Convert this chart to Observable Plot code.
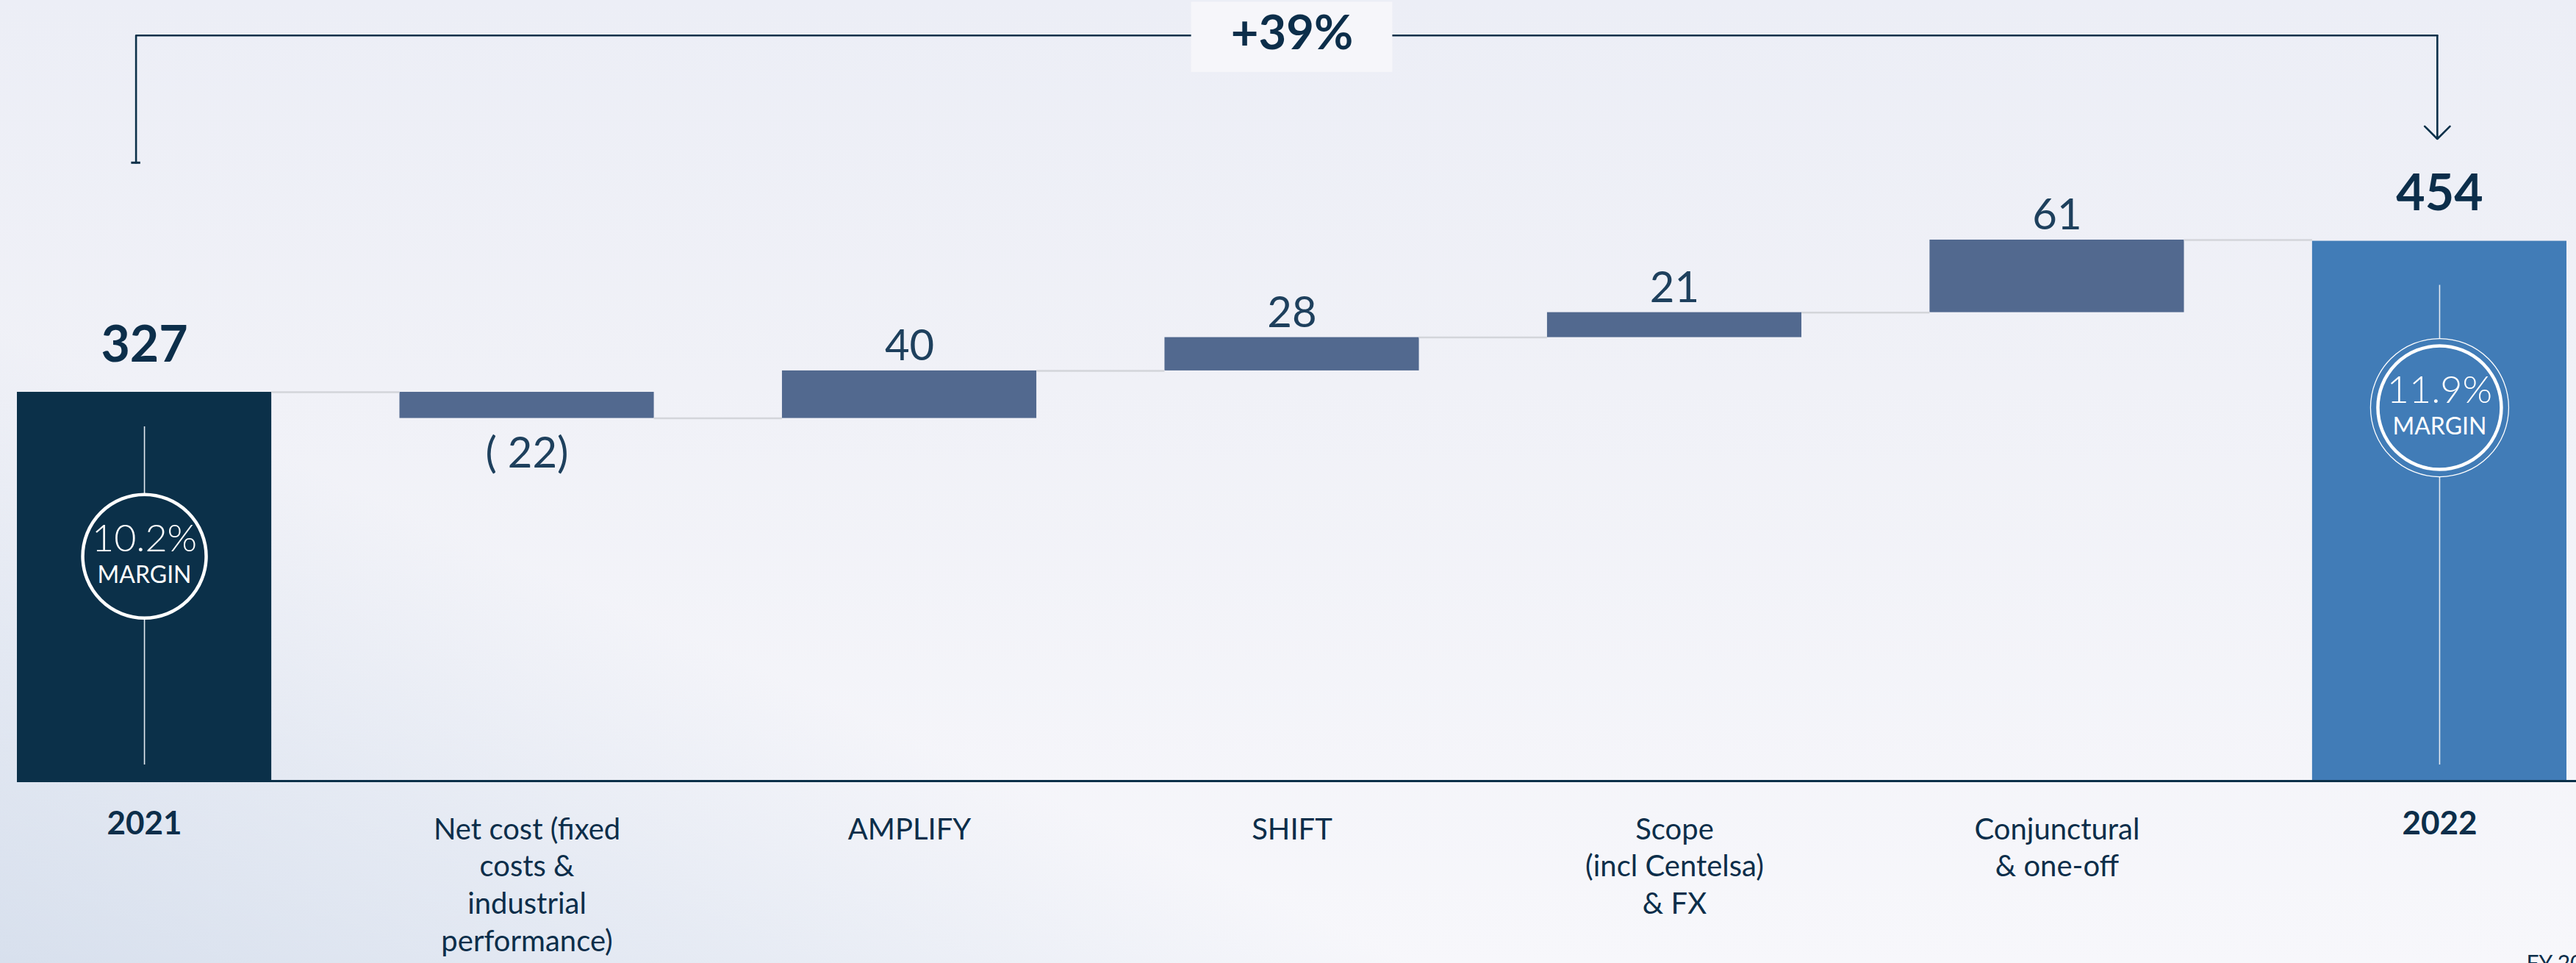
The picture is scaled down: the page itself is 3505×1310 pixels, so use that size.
<!DOCTYPE html>
<html>
<head>
<meta charset="utf-8">
<script src="https://cdn.jsdelivr.net/npm/d3@7"></script>
<script src="https://cdn.jsdelivr.net/npm/@observablehq/plot@0.6"></script>
<style>
  html, body { margin: 0; padding: 0; width: 3505px; height: 1310px; overflow: hidden; }
  body {
    background:
      linear-gradient(24deg, rgba(190,205,226,0.55) 0%, rgba(200,213,231,0.35) 16%, rgba(240,242,248,0) 30%),
      linear-gradient(180deg, #eceef6 0%, #f0f1f7 40%, #f7f7fb 100%);
  }
  #chart svg { display: block; }
</style>
</head>
<body>
<div id="chart"></div>
<script>
// ---------- data ----------
const categories = ["2021", "Net cost", "AMPLIFY", "SHIFT", "Scope", "Conjunctural", "2022"];
const tickLabels = [
  "2021",
  "Net cost (fixed\ncosts &\nindustrial\nperformance)",
  "AMPLIFY",
  "SHIFT",
  "Scope\n(incl Centelsa)\n& FX",
  "Conjunctural\n& one-off",
  "2022"
];
const kinds = ["total", "delta", "delta", "delta", "delta", "delta", "total"];
const values = [327, -22, 40, 28, 21, 61, 454];
const valueLabels = ["327", "( 22)", "40", "28", "21", "61", "454"];
const marginLabels = ["10.2%", null, null, null, null, null, "11.9%"];
const marginWord = "MARGIN";
const growthLabel = "+39%";
const footnote = "FY 2022";

// ---------- derived table ----------
let run = 0;
const rows = categories.map((c, i) => {
  let y1, y2;
  if (kinds[i] === "total") { y1 = 0; y2 = values[i]; }
  else { y1 = run; y2 = run + values[i]; }
  run = y2;
  return {i, category: c, tick: tickLabels[i], kind: kinds[i], value: values[i],
          label: valueLabels[i], margin: marginLabels[i], y1, y2,
          top: Math.max(y1, y2), bottom: Math.min(y1, y2), end: y2};
});
const totals = rows.filter(d => d.kind === "total");
const deltas = rows.filter(d => d.kind === "delta");

// ---------- styling / layout ----------
const hw = 0.3325;                      // half bar width in band units
const navy = "#0b3049";
const slate = "#52698f";
const blue = "#417cb7";
const textNavy = "#0c2e4a";
const textSoft = "#1e405d";
const barColor = d => d.kind === "delta" ? slate : (d.i === 0 ? navy : blue);
const circleLevel = d => d.i === 0 ? 189 : 314;
const stemTop = d => d.i === 0 ? 298 : 417;
const stemBottom = 13.6;
const bracketTop = 627;
const first = rows[0], last = rows[rows.length - 1];
const bracketPts = [
  {x: first.i - 0.022, y: 520},
  {x: first.i - 0.022, y: bracketTop},
  {x: last.i - 0.006, y: bracketTop}
];
const connectors = rows.slice(0, -1).map((d, k) => ({x1: d.i + hw, x2: rows[k + 1].i - hw, level: d.end}));
const midIndex = 3;
const font = "Lato, 'Noto Sans', 'Open Sans', sans-serif";

const chart = Plot.plot({
  width: 3505,
  height: 1310,
  marginLeft: 23,
  marginRight: 13,
  marginTop: 0,
  marginBottom: 248,
  style: {background: "transparent", fontFamily: font},
  x: {domain: [-hw, rows.length - 1 + hw], axis: null},
  y: {domain: [0, 656.5], axis: null},
  color: {type: "identity"},
  marks: [
    // bars
    Plot.rect(rows, {x1: d => d.i - hw, x2: d => d.i + hw, y1: "y1", y2: "y2", fill: barColor}),
    // baseline
    Plot.ruleY([0], {stroke: navy, strokeWidth: 3, insetRight: -13}),
    // connectors
    Plot.ruleY(connectors, {y: "level", x1: "x1", x2: "x2", stroke: "#d3d5da", strokeWidth: 2.5}),
    // stems in total bars
    Plot.ruleX(totals, {x: "i", y1: stemBottom, y2: stemTop, stroke: "#e3e9f0", strokeWidth: 1.6}),
    // outer thin ring (2022)
    Plot.dot(totals.filter(d => d.i !== 0), {x: "i", y: circleLevel, r: 94, stroke: "white", strokeWidth: 1.3, fill: barColor}),
    // main ring
    Plot.dot(totals, {x: "i", y: circleLevel, r: 84, stroke: "white", strokeWidth: 4.5, fill: barColor}),
    // margin text
    Plot.text(totals, {x: "i", y: circleLevel, text: "margin", dy: -7, lineAnchor: "bottom",
      fontSize: 52, fontWeight: 300, fill: "white", ariaLabel: "margin-pct", fontFamily: font}),
    Plot.text(totals, {x: "i", y: circleLevel, text: () => marginWord, dy: 36, lineAnchor: "bottom",
      fontSize: 32, fontWeight: 400, fill: "white", ariaLabel: "margin-word", fontFamily: font}),
    // value labels
    Plot.text(totals, {x: "i", y: "top", text: "label", dy: -42, lineAnchor: "bottom",
      fontSize: 68, fontWeight: 700, fill: textNavy, fontFamily: font}),
    Plot.text(deltas.filter(d => d.value >= 0), {x: "i", y: "top", text: "label", dy: -14, lineAnchor: "bottom",
      fontSize: 58, fontWeight: 400, fill: textSoft, fontFamily: font}),
    Plot.text(deltas.filter(d => d.value < 0), {x: "i", y: "bottom", text: "label", dy: 26, lineAnchor: "top",
      fontSize: 58, fontWeight: 400, fill: textSoft, fontFamily: font}),
    // category labels
    Plot.text(totals, {x: "i", y: 0, text: "tick", dy: 41, lineAnchor: "top",
      fontSize: 44, fontWeight: 700, fill: textNavy, fontFamily: font}),
    Plot.text(deltas, {x: "i", y: 0, text: "tick", dy: 43, lineAnchor: "top", lineHeight: 1.27,
      fontSize: 40, fontWeight: 400, fill: textNavy, fontFamily: font}),
    // growth bracket
    Plot.line(bracketPts, {x: "x", y: "y", stroke: navy, strokeWidth: 2.6}),
    Plot.ruleY([bracketPts[0]], {y: "y", x1: d => d.x - 0.012, x2: d => d.x + 0.012, stroke: navy, strokeWidth: 3}),
    Plot.arrow([last], {x1: d => d.i - 0.006, y1: bracketTop, x2: d => d.i - 0.006, y2: 540,
      stroke: navy, strokeWidth: 2.6, headAngle: 90, headLength: 14}),
    Plot.rect([growthLabel], {x1: midIndex - 0.263, x2: midIndex + 0.263, y1: bracketTop - 31, y2: bracketTop + 28,
      fill: "#f6f6fa"}),
    Plot.text([growthLabel], {x: midIndex, y: bracketTop, text: d => d, dy: -2, lineAnchor: "middle",
      fontSize: 65, fontWeight: 700, fill: textNavy, fontFamily: font}),
    // footnote (cut at the bottom edge, as in the source)
    Plot.text([footnote], {frameAnchor: "bottom-right", text: d => d, dx: -55, dy: 258, textAnchor: "start",
      lineAnchor: "bottom", fontSize: 30, fill: textNavy, fontFamily: font})
  ]
});

chart.querySelectorAll('g[aria-label="margin-pct"] text').forEach(t => {
  t.setAttribute("textLength", 98); t.setAttribute("lengthAdjust", "spacingAndGlyphs");
});
chart.querySelectorAll('g[aria-label="margin-word"] text').forEach(t => {
  t.setAttribute("textLength", 78); t.setAttribute("lengthAdjust", "spacingAndGlyphs");
});

document.getElementById("chart").append(chart);
</script>
</body>
</html>
